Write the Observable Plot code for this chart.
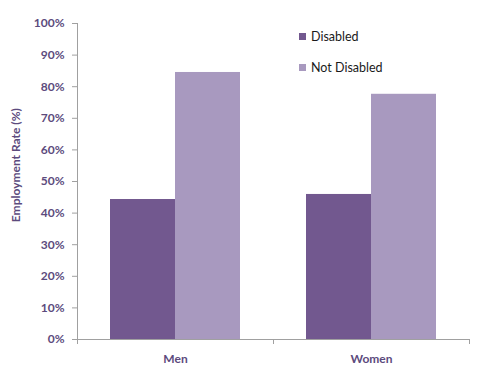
<!DOCTYPE html>
<html><head><meta charset="utf-8">
<script src="https://cdn.jsdelivr.net/npm/d3@7"></script>
<script src="https://cdn.jsdelivr.net/npm/@observablehq/plot@0.6"></script>
<style>body{margin:0;background:#fff}</style>
</head><body><div id="chart"></div>
<script>
const categories = ["Men", "Women"];
const groups = ["Disabled", "Not Disabled"];
const disabled = [0.443, 0.459];
const notDisabled = [0.845, 0.776];
const yTicks = [0, 0.1, 0.2, 0.3, 0.4, 0.5, 0.6, 0.7, 0.8, 0.9, 1.0];
const colors = ["#72588F", "#A899BF"];
const textColor = "#5C4B7D";

const data = [];
categories.forEach((c, i) => {
  data.push({cat: c, group: groups[0], value: disabled[i]});
  data.push({cat: c, group: groups[1], value: notDisabled[i]});
});

const chart = Plot.plot({
  width: 478, height: 372,
  marginLeft: 76, marginRight: 9, marginTop: 23, marginBottom: 33,
  style: {fontFamily: "Lato, sans-serif", fontSize: "11px", background: "#fff"},
  fx: {domain: categories, paddingInner: 0, paddingOuter: 0, label: null, axis: null},
  x: {domain: groups, paddingInner: 0, paddingOuter: 0.5, axis: null},
  y: {domain: [0, 1], ticks: yTicks, tickFormat: d3.format(".0%"), label: null},
  color: {domain: groups, range: colors},
  marks: [
    Plot.barY(data, {fx: "cat", x: "group", y: "value", fill: "group"}),
    Plot.axisY({ticks: yTicks, tickFormat: d3.format(".0%"), tickSize: 5, tickPadding: 8, stroke: "#A0A0A0", fill: textColor, fontWeight: "bold", fontSize: 12, label: null}),
    Plot.ruleY([0], {stroke: "#A0A0A0"}),
    Plot.axisFx({anchor: "bottom", tickSize: 0, tickPadding: 15, fill: textColor, fontWeight: "bold", fontSize: 12, label: null})
  ]
});

const svg = d3.select(chart);
const fx = chart.scale("fx");
const y = chart.scale("y");
const x0 = fx.apply(categories[0]);
const bw = fx.bandwidth;
const yb = y.apply(0), yt = y.apply(1);
// y axis line
svg.append("line").attr("x1", x0 + 0.5).attr("x2", x0 + 0.5).attr("y1", yt).attr("y2", yb).attr("stroke", "#A0A0A0");
// category boundary ticks
const edges = categories.map(c => fx.apply(c)).concat([fx.apply(categories[categories.length - 1]) + bw]);
edges.forEach(e => {
  svg.append("line").attr("x1", e + 0.5).attr("x2", e + 0.5).attr("y1", yb).attr("y2", yb + 5).attr("stroke", "#A0A0A0");
});
// y label
svg.append("text").attr("transform", `translate(20,${y.apply(0.55)}) rotate(-90)`)
  .attr("text-anchor", "middle").attr("fill", textColor).attr("font-weight", "bold")
  .attr("font-size", 12).attr("font-family", "Lato, sans-serif").text("Employment Rate (%)");
// legend
const color = chart.scale("color");
groups.forEach((g, i) => {
  const gy = 33 + i * 31;
  svg.append("rect").attr("x", 299).attr("y", gy).attr("width", 7).attr("height", 7).attr("fill", color.apply(g));
  svg.append("text").attr("x", 311).attr("y", gy + 8).attr("text-anchor", "start").attr("fill", "#1a1a1a").attr("font-size", 12.5)
    .attr("font-family", "Lato, sans-serif").text(g);
});
document.getElementById("chart").appendChild(chart);
</script>
</body></html>
